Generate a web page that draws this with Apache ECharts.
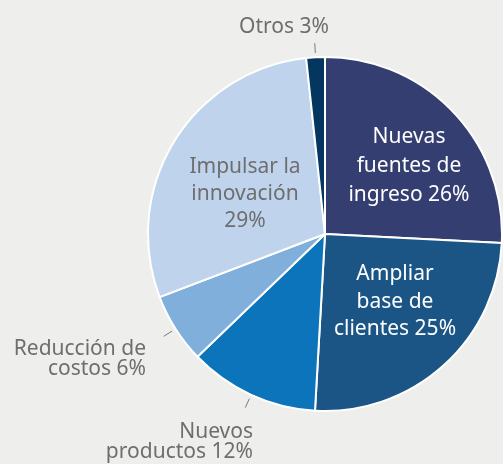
<!DOCTYPE html>
<html>
<head>
<meta charset="utf-8">
<title>Objetivos</title>
<script src="https://cdn.jsdelivr.net/npm/echarts@6/dist/echarts.min.js"></script>
<style>
  html, body { margin: 0; padding: 0; background: #eeeeec; }
  #chart { width: 503px; height: 464px; }
</style>
</head>
<body>
<div id="chart"></div>
<script>
// datos
var categorias = ['Nuevas\nfuentes de\ningreso', 'Ampliar\nbase de\nclientes', 'Nuevos\nproductos',
  'Reducción de\ncostos', 'Impulsar la\ninnovación', 'Otros'];
var porcentajes = [26, 25, 12, 6, 29, 3];
var porciones = [25.8, 25.1, 11.9, 6.4, 29.1, 1.7];
var colores = ['#343e70', '#1b5586', '#0b74bb', '#80afdb', '#bfd4ec', '#04375f'];

// dónde va cada etiqueta (x, y, alineación)
var posEtiquetas = [
  { x: 409, y: 166.5, align: 'center', lh: 29 },
  { x: 395, y: 302, align: 'center', lh: 27.5 },
  { x: 253, y: 442, align: 'right', lh: 20 },
  { x: 146, y: 359, align: 'right', lh: 20.5 },
  { x: 245, y: 194, align: 'center', lh: 27 },
  { x: 284, y: 27, align: 'center', lh: 21 }
];
var dentro = [true, true, false, false, true, false];
var colorTexto = ['#ffffff', '#ffffff', '#6e6e6e', '#6e6e6e', '#6e6e6e', '#6e6e6e'];

var chart = echarts.init(document.getElementById('chart'));

var datos = categorias.map(function (c, i) {
  return {
    name: c,
    value: porciones[i],
    itemStyle: { color: colores[i] },
    label: {
      position: dentro[i] ? 'inside' : 'outside',
      color: colorTexto[i],
      lineHeight: posEtiquetas[i].lh
    },
    labelLine: { show: !dentro[i] }
  };
});

var option = {
  backgroundColor: '#eeeeec',
  animation: false,
  series: [{
    type: 'pie',
    center: [325, 234],
    radius: 177,
    startAngle: 90,
    clockwise: true,
    avoidLabelOverlap: false,
    silent: true,
    itemStyle: { borderColor: '#ffffff', borderWidth: 2 },
    label: {
      show: true,
      fontFamily: 'Noto Sans',
      fontSize: 21,
      formatter: function (p) {
        var sep = p.dataIndex === 4 ? '\n' : ' ';
        return p.name + sep + porcentajes[p.dataIndex] + '%';
      }
    },
    labelLine: {
      length: 14,
      length2: 0,
      lineStyle: { color: '#7a7a7a', width: 1 }
    },
    emphasis: { disabled: true },
    labelLayout: function (params) {
      var pos = posEtiquetas[params.dataIndex];
      var res = { x: pos.x, y: pos.y, align: pos.align, verticalAlign: 'middle' };
      var pts = params.labelLinePoints;
      if (pts && pts.length) {
        // deja un pequeño hueco entre el borde y la línea guía
        var a = pts[0], b = pts[1];
        var start = [a[0] + (b[0] - a[0]) * 0.3, a[1] + (b[1] - a[1]) * 0.3];
        res.labelLinePoints = [start, [b[0], b[1]], [b[0], b[1]]];
      }
      return res;
    },
    data: datos
  }]
};

chart.setOption(option);
</script>
</body>
</html>
